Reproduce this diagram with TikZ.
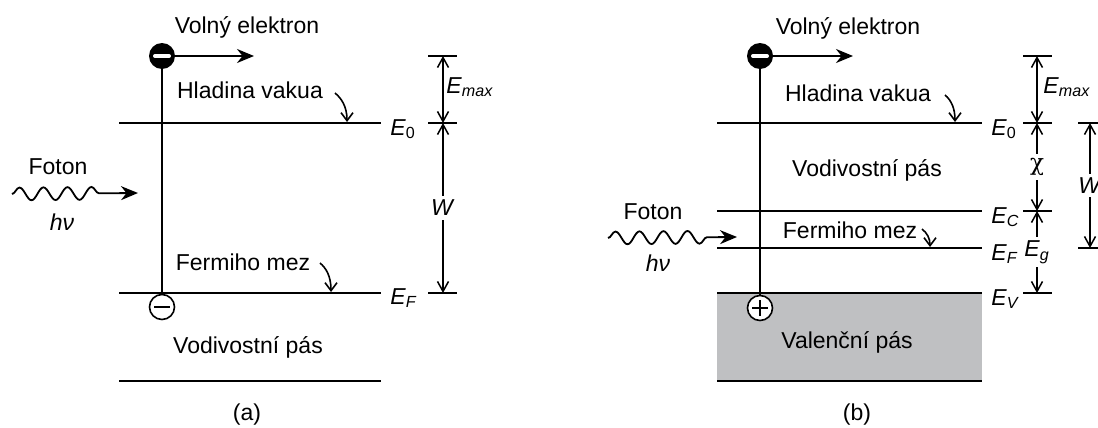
\documentclass[tikz,border=0pt]{standalone}
\usepackage{fontspec}
\setmainfont{Liberation Sans}
\newfontfamily\chifont{DejaVu Serif}
\usepackage{xcolor}
\usepackage{tikz}
\usetikzlibrary{arrows.meta,positioning,decorations.pathmorphing}
\definecolor{valgray}{RGB}{191,192,194}

\begin{document}
\begin{tikzpicture}[
  x=0.5pt, y=-0.5pt,
  font=\fontsize{11.5pt}{13pt}\selectfont,
  level/.style={line width=1.2pt},
  vert/.style={line width=0.85pt},
  arr/.style={-{Stealth[length=8.5pt,width=7pt]}, line width=0.9pt},
  barb/.style={-{Straight Barb[length=4pt,width=6pt]}, line width=0.8pt},
  dim/.style={{Straight Barb[length=5pt,width=5.5pt]}-{Straight Barb[length=5pt,width=5.5pt]}, line width=0.75pt},
  tick/.style={line width=1pt},
  gap/.style={fill=white, inner sep=2pt},
  photon/.style={arr, decorate, decoration={snake, amplitude=3.2pt, segment length=12pt, post length=15pt}},
  lbl/.style={anchor=base west, inner sep=0pt},
  elec/.style={circle, fill=black, minimum size=13pt, inner sep=0pt,
    path picture={\draw[white, line width=2pt, line cap=round]
      ([xshift=-3.5pt]path picture bounding box.center) -- ([xshift=3.5pt]path picture bounding box.center);}},
  hole/.style={circle, draw, fill=white, line width=0.8pt, minimum size=12.5pt, inner sep=0pt},
  holem/.style={hole, path picture={\draw[line width=0.9pt]
      ([xshift=-4pt]path picture bounding box.center) -- ([xshift=4pt]path picture bounding box.center);}},
  holep/.style={hole, path picture={\draw[line width=0.9pt]
      ([xshift=-4pt]path picture bounding box.center) -- ([xshift=4pt]path picture bounding box.center)
      ([yshift=-4pt]path picture bounding box.center) -- ([yshift=4pt]path picture bounding box.center);}},
]
\useasboundingbox (0,0) rectangle (1098,428);

% (a) metal
\draw[level] (119,123) -- (381,123);
\draw[level] (119,293) -- (381,293);
\draw[level] (119,381) -- (381,381);
\node[elec] (ea) at (162,56) {};
\node[holem] (ha) at (162,307) {};
\coordinate (ea-tip) at (254,56);
\draw[vert] (ea) -- (ha);
\draw[arr] (ea) -- (ea-tip);
\node (vea) at (247,27) {Volný elektron};
\node (hva) at (250,90) {Hladina vakua};
\coordinate (hva-s) at (335,93);
\coordinate (hva-e) at (347,122);
\draw[barb] (hva-s) .. controls (341,98) and (347,106) .. (hva-e);
\node (fma) at (243,262) {Fermiho mez};
\coordinate (fma-s) at (320,263);
\coordinate (fma-e) at (331,292);
\draw[barb] (fma-s) .. controls (326,268) and (331,276) .. (fma-e);
\node (vpa) at (248,347) {Vodivostní pás};
\node (capa) at (247,415) {(a)};
\node (fa) at (58,167) {Foton};
\coordinate (pa) at (12,194);
\coordinate (pa-tip) at (138,193);
\draw[photon] (pa) -- (pa-tip);
\node (hna) at (62,222) {\textit{hν}};
\node[lbl] (e0a) at (390,135) {\textit{E}\textsubscript{0}};
\node[lbl] (efa) at (390,304) {\textit{E}\textsubscript{\textit{F}}};

\coordinate (da-top) at (443,56);
\coordinate (da-e0) at (443,123);
\coordinate (da-ef) at (443,293);
\draw[tick] ([xshift=-7.5pt]da-top) -- ([xshift=7pt]da-top);
\draw[tick] ([xshift=-7.5pt]da-e0) -- ([xshift=7pt]da-e0);
\draw[tick] ([xshift=-7.5pt]da-ef) -- ([xshift=7pt]da-ef);
\draw[dim] (da-top) -- (da-e0);
\draw[dim] (da-e0) -- (da-ef) node[midway, gap] {\textit{W}};
\node[lbl] (ema) at (446,93) {\textit{E}\textsubscript{\textit{max}}};

% (b) semiconductor
\fill[valgray] (717,293) rectangle (982,381);
\draw[level] (717,123) -- (982,123);
\draw[level] (717,211) -- (982,211);
\draw[level] (717,248) -- (982,248);
\draw[level] (717,293) -- (982,293);
\draw[level] (717,381) -- (982,381);
\node[elec] (eb) at (760,56) {};
\node[holep] (hb) at (760,308) {};
\coordinate (eb-tip) at (853,56);
\draw[vert] (eb) -- (hb);
\draw[arr] (eb) -- (eb-tip);
\node (veb) at (848,28) {Volný elektron};
\node (hvb) at (858,93) {Hladina vakua};
\coordinate (hvb-s) at (945,95);
\coordinate (hvb-e) at (955,122);
\draw[barb] (hvb-s) .. controls (951,100) and (955,108) .. (hvb-e);
\node (vpb) at (867,170) {Vodivostní pás};
\node (fmb) at (850,230) {Fermiho mez};
\coordinate (fmb-s) at (922,229);
\coordinate (fmb-e) at (930,247);
\draw[barb] (fmb-s) .. controls (927,233) and (930,238) .. (fmb-e);
\node (vlb) at (847,342) {Valenční pás};
\node (capb) at (857,415) {(b)};
\node (fb) at (653,212) {Foton};
\coordinate (pb) at (608,238);
\coordinate (pb-tip) at (737,237);
\draw[photon] (pb) -- (pb-tip);
\node (hnb) at (658,263) {\textit{hν}};
\node[lbl] (e0b) at (991,135) {\textit{E}\textsubscript{0}};
\node[lbl] (ecb) at (991,223) {\textit{E}\textsubscript{\textit{C}}};
\node[lbl] (efb) at (991,260) {\textit{E}\textsubscript{\textit{F}}};
\node[lbl] (evb) at (991,305) {\textit{E}\textsubscript{\textit{V}}};

\coordinate (db-top) at (1037,56);
\coordinate (db-e0) at (1037,123);
\coordinate (db-ec) at (1037,211);
\coordinate (db-ev) at (1037,293);
\draw[tick] ([xshift=-7pt]db-top) -- ([xshift=7.5pt]db-top);
\draw[tick] ([xshift=-7pt]db-e0) -- ([xshift=7.5pt]db-e0);
\draw[tick] ([xshift=-7pt]db-ec) -- ([xshift=7.5pt]db-ec);
\draw[tick] ([xshift=-7pt]db-ev) -- ([xshift=7.5pt]db-ev);
\draw[dim] (db-top) -- (db-e0);
\draw[dim] (db-e0) -- (db-ec) node[midway, gap] {\chifont χ};
\draw[dim] (db-ec) -- (db-ev) node[midway, gap] {\textit{E}\textsubscript{\textit{g}}};
\node[lbl] (emb) at (1043,93) {\textit{E}\textsubscript{\textit{max}}};

\coordinate (dw-e0) at (1090,123);
\coordinate (dw-ef) at (1090,248);
\draw[tick] ([xshift=-6pt]dw-e0) -- ([xshift=10pt]dw-e0);
\draw[tick] ([xshift=-6pt]dw-ef) -- ([xshift=10pt]dw-ef);
\draw[dim] (dw-e0) -- (dw-ef) node[midway, gap] {\textit{W}};
\end{tikzpicture}
\end{document}
